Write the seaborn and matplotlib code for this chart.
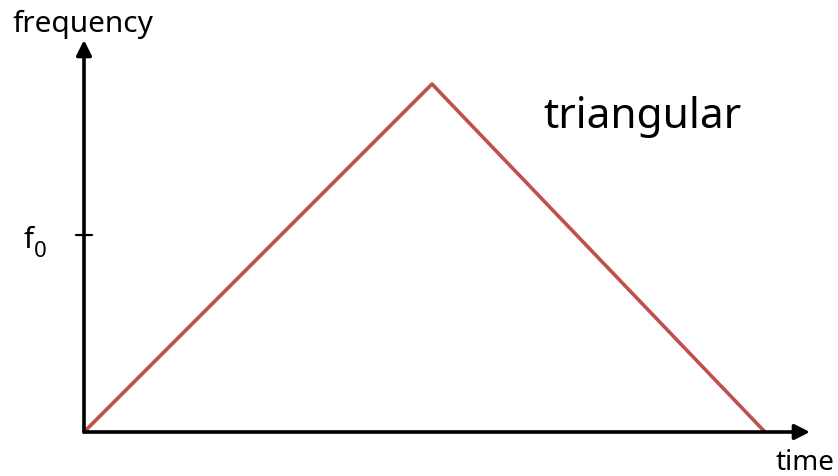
import numpy as np
import pandas as pd
import seaborn as sns
import matplotlib.pyplot as plt

# data (time and frequency in relative units, f0 = 1)
time_vals = [0.0, 0.511, 1.0]
freq_vals = [0.0, 1.77, 0.0]
f0_level = 1.0
x_label = 'time'
y_label = 'frequency'
f0_main, f0_sub = 'f', '0'
title_text = 'triangular'

df = pd.DataFrame({'time': time_vals, 'frequency': freq_vals})

sns.set_style('white')
plt.rcParams['font.family'] = ['Noto Sans', 'DejaVu Sans']
plt.rcParams['text.color'] = 'black'

W, H = 838, 476
fig = plt.figure(figsize=(W / 100, H / 100), dpi=100)
# origin at pixel (84, 432), x = 1 at pixel 765, peak at pixel 84
ax = fig.add_axes([84 / W, (H - 432) / H, (765 - 84) / W, (432 - 84) / H])

sns.lineplot(data=df, x='time', y='frequency', ax=ax, color='#C0504D',
             linewidth=2.6, clip_on=False, sort=False)
ax.set_xlim(0, 1)
ax.set_ylim(0, max(freq_vals))
ax.set_xlabel(None)
ax.set_ylabel(None)
ax.set_xticks([])
ax.set_yticks([])
for s in ax.spines.values():
    s.set_visible(False)
ax.patch.set_alpha(0)

# axes with arrows
arrow = dict(arrowstyle='-|>,head_length=0.9,head_width=0.45', color='black',
             lw=2.6, shrinkA=0, shrinkB=0)
ax.annotate('', xy=((810 - 84) / 681, 0), xytext=(0, 0),
            xycoords='axes fraction', arrowprops=arrow)
ax.annotate('', xy=(0, (432 - 40) / 348), xytext=(0, 0),
            xycoords='axes fraction', arrowprops=arrow)

# f0 tick
ax.plot([-8 / 681, 8 / 681], [f0_level, f0_level], color='black', lw=1.6,
        transform=ax.get_yaxis_transform(), clip_on=False)

fig.text(24 / W, 1 - 248 / H, f0_main, ha='left', va='baseline', fontsize=21)
fig.text(34 / W, 1 - 257 / H, f0_sub, ha='left', va='baseline', fontsize=16)
fig.text(12 / W, 1 - 32 / H, y_label, ha='left', va='baseline', fontsize=21.5)
fig.text(834 / W, 1 - 470 / H, x_label, ha='right', va='baseline', fontsize=20)
fig.text(543 / W, 1 - 128 / H, title_text, ha='left', va='baseline', fontsize=30.5)

plt.savefig('out.png', dpi=100)
plt.close()
